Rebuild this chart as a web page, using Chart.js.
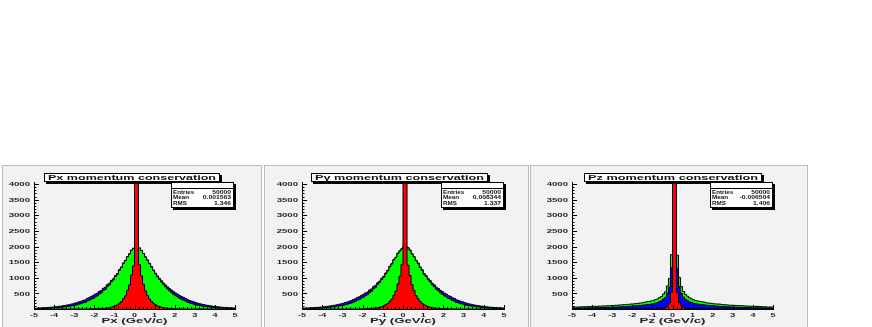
<!DOCTYPE html>
<html>
<head>
<meta charset="utf-8">
<script src="https://cdn.jsdelivr.net/npm/chart.js@4.4.1/dist/chart.umd.min.js"></script>
<style>
  body { margin: 0; background: #fff; width: 872px; height: 327px; overflow: hidden; position: relative; }
  canvas { position: absolute; top: 165px; }
</style>
</head>
<body>
<canvas id="c1"></canvas>
<canvas id="c2"></canvas>
<canvas id="c3"></canvas>
<script>
// histogram binning: 100 bins from -5 to 5 GeV/c
const binLow = -5, binHigh = 5, binWidth = 0.1;

// Px
const pxBlue = [27,32,33,39,40,47,50,58,61,69, 75,86,91,105,112,128,137,156,165,189, 202,231,246,277,292,340,361,403,429,480, 507,564,595,664,697,780,822,915,967,1070, 1134,1260,1346,1473,1560,1676,1765,1885,1945,1995,
                2005,1955,1875,1775,1665,1570,1462,1355,1248,1142, 1058,975,902,830,768,705,652,603,552,510, 473,433,398,366,334,297,273,250,229,207, 186,169,154,140,127,115,104,94,85,77, 69,62,57,52,47,42,38,35,32,29];
const pxGreen = [15,19,19,23,23,28,29,34,35,41, 44,52,54,64,67,79,84,99,104,124, 133,158,170,198,210,255,275,315,340,390, 420,480,515,590,630,720,770,870,930,1040, 1110,1240,1330,1460,1550,1670,1760,1880,1940,1990,
                 2000,1950,1870,1770,1660,1560,1450,1340,1230,1120, 1030,940,860,780,710,640,580,525,470,425, 385,345,310,280,250,215,193,173,155,137, 120,107,96,86,77,69,62,56,50,45, 40,36,33,30,27,24,22,20,18,16];
const pxRed = [0,0,0,0,0,0,0,0,0,0, 0,0,0,0,1,0,0,1,0,1, 1,1,1,2,2,2,3,4,5,7, 8,11,13,19,23,33,40,58,72,104, 130,185,235,330,420,600,770,1090,1380,5400,
               5600,1420,1060,790,580,430,320,240,180,135, 100,75,56,42,32,24,18,14,11,8, 6,5,4,3,3,2,2,2,1,1, 1,1,1,0,1,0,0,1,0,0, 0,0,0,0,0,0,0,0,0,0];

// Py
const pyBlue = [28,30,34,37,41,45,51,56,63,67, 77,83,94,102,115,124,141,152,169,183, 209,225,252,269,302,330,371,393,439,470, 517,544,610,644,717,760,842,895,987,1050, 1154,1240,1366,1453,1580,1656,1785,1865,1935,2015,
                1995,1965,1885,1765,1675,1560,1472,1345,1258,1132, 1068,970,907,825,773,700,657,598,557,505, 478,428,403,361,336,294,275,247,231,205, 188,167,156,139,128,114,105,93,86,76, 70,61,58,51,47,41,38,34,32,28];
const pyGreen = [16,17,20,21,24,26,30,32,37,39, 46,49,57,61,70,75,88,95,108,118, 140,152,176,190,220,245,285,305,350,380, 430,460,530,570,650,700,790,850,950,1020, 1130,1220,1350,1440,1570,1650,1780,1860,1930,2010,
                 1990,1960,1880,1760,1670,1550,1460,1330,1240,1110, 1040,935,865,775,715,635,585,520,475,420, 390,340,315,275,252,212,195,170,157,135, 122,105,98,85,78,68,63,55,51,44, 41,35,34,29,27,23,22,19,18,15];
const pyRed = [0,0,0,0,0,0,0,0,0,0, 0,0,0,0,0,0,1,0,0,1, 1,1,1,1,2,2,3,3,5,6, 9,10,15,17,25,30,43,55,76,98, 138,175,245,315,440,570,800,1050,1430,5300,
               5500,1400,1070,780,590,425,325,238,182,132, 102,74,57,41,31,24,18,14,10,8, 6,5,4,3,2,3,1,2,1,1, 0,1,1,0,0,1,0,0,0,0, 0,0,0,0,0,0,0,0,0,0];

// Pz
const pzGreen = [62,60,68,66,72,70,77,75,82,80, 87,86,93,91,99,98,104,104,113,112, 119,120,129,128,138,139,148,150,161,160, 172,175,190,192,210,220,238,240,262,265, 300,320,365,400,480,550,740,980,1740,2000,
                 2000,1720,1010,720,560,470,410,360,325,295, 270,258,246,235,225,205,196,187,178,170, 163,158,160,146,141,136,131,120,122,118, 114,110,107,110,100,97,94,91,88,85, 82,86,77,75,72,70,60,65,63,61];
const pzBlue = [27,26,29,29,31,31,34,34,37,37, 41,41,45,45,49,49,53,53,57,57, 62,63,68,69,75,76,83,84,92,93, 102,104,114,116,127,130,142,145,160,165, 188,200,235,260,320,370,510,700,1320,2000,
                2000,1300,720,500,380,310,265,230,205,185, 168,158,148,140,133,125,118,112,106,100, 95,90,86,82,78,74,70,67,64,61, 58,56,54,52,50,48,46,44,42,40, 38,36,35,33,32,31,30,28,27,26];
const pzRed = [0,0,0,0,0,0,0,0,0,0, 0,0,0,0,1,0,0,0,1,0, 0,1,0,0,1,0,1,1,0,1, 1,1,1,2,2,2,3,3,5,5, 7,8,13,17,30,48,100,190,540,5600,
               5800,520,200,95,50,28,18,12,9,7, 5,4,4,3,3,2,2,2,1,1, 1,1,1,0,1,0,1,0,0,1, 0,0,1,0,0,0,0,1,0,0, 0,0,0,0,0,0,0,0,0,0];

// axis ticks
const xTickValues = [-5,-4,-3,-2,-1,0,1,2,3,4,5];
const yTickValues = [500,1000,1500,2000,2500,3000,3500,4000];
const yMax = 4064;

// texts
const padTitles = ['Px momentum conservation', 'Py momentum conservation', 'Pz momentum conservation'];
const axisTitles = ['Px (GeV/c)', 'Py (GeV/c)', 'Pz (GeV/c)'];
const statEntries = ['50000', '50000', '50000'];
const statMean = ['0.001563', '0.008344', '-0.006504'];
const statRMS = ['1.346', '1.337', '1.406'];

// layout of the three pads (page pixels)
const PAD_TOP = 165, PAD_BOTTOM = 327, FRAME_TOP = 182, FRAME_BOTTOM = 309;
const pads = [
  { id: 'c1', x: 2,   w: 260, frame: [34, 235],  titleBox: [44, 173, 222, 184],  statsBox: [171, 182, 236, 210] },
  { id: 'c2', x: 264, w: 265, frame: [302, 504], titleBox: [311, 173, 490, 184], statsBox: [441, 182, 506, 210] },
  { id: 'c3', x: 530, w: 278, frame: [572, 773], titleBox: [584, 173, 764, 184], statsBox: [710, 182, 775, 210] }
];

function hist(vals, color) {
  const pts = vals.map((v, i) => ({ x: binLow + (i + 1) * binWidth, y: v }));
  pts.unshift({ x: binLow, y: vals[0] });
  return { data: pts, stepped: 'before', fill: 'origin', backgroundColor: color,
           borderColor: '#000', borderWidth: 1, pointRadius: 0 };
}

// stretched text, ROOT screenshots have very wide glyphs
function wideText(ctx, txt, x, y, size, sx, align) {
  ctx.save();
  ctx.font = 'bold ' + size + 'px "Liberation Sans", Arial, sans-serif';
  ctx.textBaseline = 'middle';
  ctx.textAlign = align;
  ctx.translate(x, y);
  ctx.scale(sx, 1);
  ctx.fillText(txt, 0, 0);
  ctx.restore();
}
function fitText(ctx, txt, cx, y, size, w) {
  ctx.font = 'bold ' + size + 'px "Liberation Sans", Arial, sans-serif';
  const m = ctx.measureText(txt).width;
  wideText(ctx, txt, cx, y, size, w / m, 'center');
}
function shadowBox(ctx, x0, y0, x1, y1) {
  ctx.fillStyle = '#000';
  ctx.fillRect(x0 + 2, y0 + 2, x1 - x0 - 2, y1 - y0 - 2);
  ctx.fillStyle = '#fff';
  ctx.fillRect(x0, y0, x1 - x0 - 2, y1 - y0 - 2);
  ctx.strokeStyle = '#000';
  ctx.lineWidth = 1;
  ctx.strokeRect(x0 + 0.5, y0 + 0.5, x1 - x0 - 3, y1 - y0 - 3);
}

const rootPad = {
  id: 'rootPad',
  beforeDraw(chart) {
    const { ctx, width, height } = chart;
    ctx.save();
    ctx.fillStyle = '#f2f2f2';
    ctx.fillRect(0, 0, width, height);
    ctx.strokeStyle = '#bcbcbc';
    ctx.lineWidth = 1;
    ctx.strokeRect(0.5, 0.5, width - 1, height + 4);
    ctx.restore();
  },
  afterDraw(chart, args, o) {
    const { ctx, chartArea: a, scales: { x, y } } = chart;
    const p = o.pad;
    ctx.save();
    ctx.strokeStyle = '#000';
    ctx.fillStyle = '#222';
    ctx.lineWidth = 1;
    ctx.beginPath();
    // ticks point into the frame, as in ROOT
    for (let v = 0; v <= 4000; v += 100) {
      const py = Math.round(y.getPixelForValue(v)) + 0.5;
      const len = v % 500 === 0 ? 5 : 2.5;
      ctx.moveTo(a.left, py); ctx.lineTo(a.left + len, py);
    }
    for (let v = -5; v <= 5.001; v += 0.2) {
      const px = Math.round(x.getPixelForValue(v)) + 0.5;
      const len = Math.abs(v - Math.round(v)) < 0.01 ? 4 : 2;
      ctx.moveTo(px, a.bottom); ctx.lineTo(px, a.bottom - len);
    }
    ctx.stroke();
    y.ticks.forEach(t => wideText(ctx, String(t.value), a.left - 4, y.getPixelForValue(t.value) + 0.5, 6, 1.6, 'right'));
    x.ticks.forEach(t => wideText(ctx, String(t.value), x.getPixelForValue(t.value), a.bottom + 6, 6, 1.5, 'center'));
    fitText(ctx, o.xTitle, (a.left + a.right) / 2, a.bottom + 12, 8, 66);

    // title box
    const ox = p.x, oy = PAD_TOP;
    const tb = p.titleBox;
    shadowBox(ctx, tb[0] - ox, tb[1] - oy, tb[2] - ox, tb[3] - oy);
    ctx.fillStyle = '#111';
    fitText(ctx, o.title, (tb[0] + tb[2] - 2) / 2 - ox, (tb[1] + tb[3] - 2) / 2 - oy + 0.5, 7, tb[2] - tb[0] - 10);

    // stats box
    const sb = p.statsBox;
    const sx0 = sb[0] - ox, sy0 = sb[1] - oy, sx1 = sb[2] - ox, sy1 = sb[3] - oy;
    shadowBox(ctx, sx0, sy0, sx1, sy1);
    ctx.beginPath();
    ctx.moveTo(sx0, sy0 + 6.5); ctx.lineTo(sx1 - 2, sy0 + 6.5);
    ctx.stroke();
    ctx.fillStyle = '#111';
    const rows = [['Entries', o.entries], ['Mean', o.mean], ['RMS', o.rms]];
    rows.forEach((r, i) => {
      const ry = sy0 + 10.5 + i * 5.5;
      wideText(ctx, r[0], sx0 + 2, ry, 5, 1.25, 'left');
      wideText(ctx, r[1], sx1 - 5, ry, 5, 1.35, 'right');
    });
    ctx.restore();
  }
};

const series = [
  [hist(pxRed, '#ff0000'), hist(pxGreen, '#00ff00'), hist(pxBlue, '#0000ff')],
  [hist(pyRed, '#ff0000'), hist(pyGreen, '#00ff00'), hist(pyBlue, '#0000ff')],
  [hist(pzRed, '#ff0000'), hist(pzBlue, '#0000ff'), hist(pzGreen, '#00ff00')]
];

pads.forEach((p, i) => {
  const cv = document.getElementById(p.id);
  cv.style.left = p.x + 'px';
  cv.width = p.w;
  cv.height = PAD_BOTTOM - PAD_TOP;
  new Chart(cv.getContext('2d'), {
    type: 'line',
    data: { datasets: series[i] },
    plugins: [rootPad],
    options: {
      responsive: false,
      animation: false,
      devicePixelRatio: 1,
      layout: { padding: { top: FRAME_TOP - PAD_TOP, right: p.w - (p.frame[1] - p.x), left: 0, bottom: 0 } },
      scales: {
        x: {
          type: 'linear', min: binLow, max: binHigh,
          afterFit(s) { s.height = PAD_BOTTOM - FRAME_BOTTOM; },
          afterBuildTicks(s) { s.ticks = xTickValues.map(v => ({ value: v })); },
          ticks: { display: false },
          grid: { display: false },
          border: { display: true, color: '#000', width: 1 }
        },
        y: {
          min: 0, max: yMax,
          afterFit(s) { s.width = p.frame[0] - p.x; },
          afterBuildTicks(s) { s.ticks = yTickValues.map(v => ({ value: v })); },
          ticks: { display: false },
          grid: { display: false },
          border: { display: true, color: '#000', width: 1 }
        }
      },
      plugins: {
        legend: { display: false },
        tooltip: { enabled: false },
        rootPad: { pad: p, title: padTitles[i], xTitle: axisTitles[i],
                   entries: statEntries[i], mean: statMean[i], rms: statRMS[i] }
      }
    }
  });
});
</script>
</body>
</html>
